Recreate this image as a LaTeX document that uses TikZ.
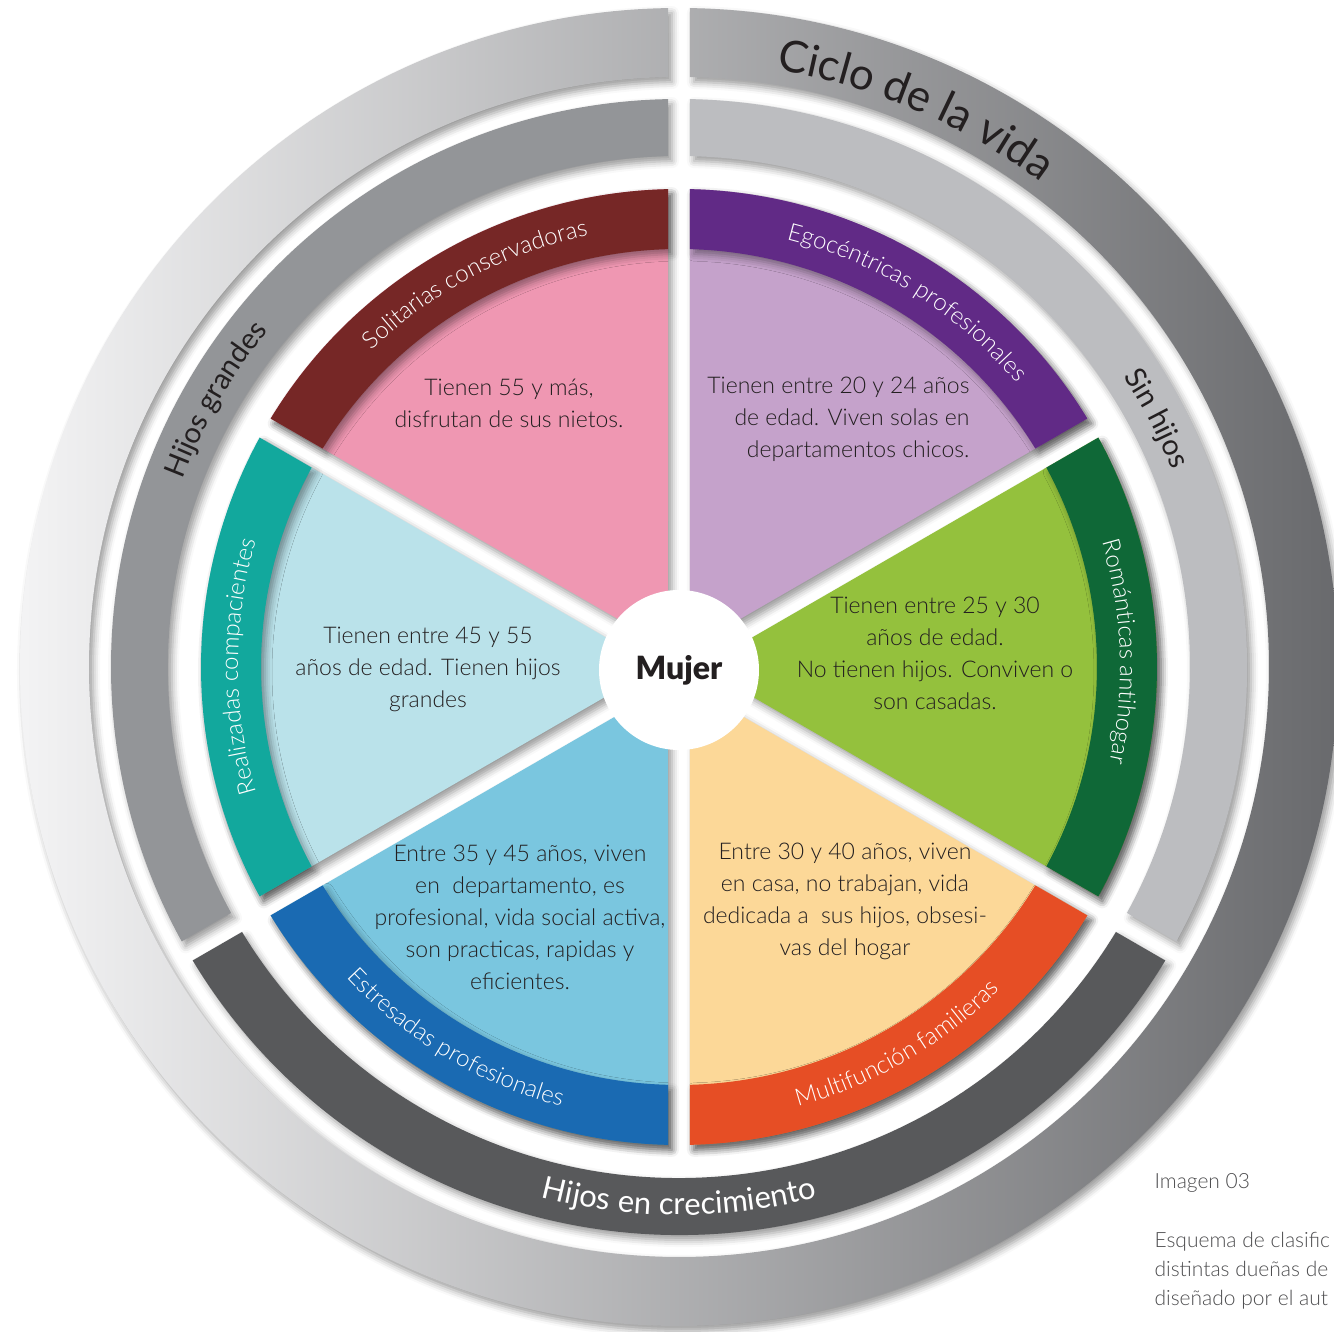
\documentclass[tikz,border=0pt]{standalone}
\usepackage{fontspec}
\setmainfont{Lato Light}[BoldFont={Lato Black}]
\newfontfamily\regfont{Lato}
\usetikzlibrary{decorations.text, shadows.blur}

\definecolor{inkgray}{HTML}{231F20}
\definecolor{pinkfill}{HTML}{EF97B2}
\definecolor{redband}{HTML}{762726}
\definecolor{lilacfill}{HTML}{C5A2CB}
\definecolor{purpleband}{HTML}{612A86}
\definecolor{greenfill}{HTML}{94C13D}
\definecolor{greenband}{HTML}{0F6837}
\definecolor{peachfill}{HTML}{FCD898}
\definecolor{orangeband}{HTML}{E64E25}
\definecolor{skyfill}{HTML}{7AC6DF}
\definecolor{blueband}{HTML}{1A6AB2}
\definecolor{palefill}{HTML}{BAE2EA}
\definecolor{tealband}{HTML}{12A89D}
\definecolor{grandesgray}{HTML}{939598}
\definecolor{sinhijosgray}{HTML}{BCBDC0}
\definecolor{crecegray}{HTML}{58595B}
\definecolor{ringlight}{HTML}{F4F4F5}
\definecolor{ringmid}{HTML}{B2B3B6}
\definecolor{ringdark}{HTML}{68696C}
\definecolor{captiongray}{HTML}{4D4D4F}

\newcommand\ringpiece[5]{%
  \pgfmathsetmacro\angA{#2+asin(\gap/#5)}%
  \pgfmathsetmacro\angB{#3-asin(\gap/#5)}%
  \pgfmathsetmacro\angC{#3-asin(\gap/#4)}%
  \pgfmathsetmacro\angD{#2+asin(\gap/#4)}%
  \path[#1] (\angA:#5) arc[start angle=\angA, end angle=\angB, radius=#5]
    -- (\angC:#4) arc[start angle=\angC, end angle=\angD, radius=#4] -- cycle;%
}
\newcommand\wedgepiece[4]{%
  \pgfmathsetmacro\angA{#2+asin(\gap/#4)}%
  \pgfmathsetmacro\angB{#3-asin(\gap/#4)}%
  \pgfmathsetmacro\angM{(#2+#3)/2}%
  \pgfmathsetmacro\tipD{\gap/sin((#3-#2)/2)}%
  \path[#1] (\angM:\tipD) -- (\angA:#4) arc[start angle=\angA, end angle=\angB, radius=#4] -- cycle;%
}
\newcommand\bandfont{\fontsize{24}{24}\selectfont}
\newcommand\ringfont{\regfont\fontsize{29}{29}\selectfont}

\begin{document}
\begin{tikzpicture}[x=1pt,y=1pt,
    piece/.style={blur shadow={shadow xshift=4pt, shadow yshift=-5pt, shadow blur radius=7pt, shadow opacity=40}},
    bodytext/.style={text=inkgray, align=center, font=\fontsize{23}{32}\selectfont},
    captext/.style={text=captiongray, align=left, font=\fontsize{21}{29}\selectfont}]

    \def\gap{11}

    \useasboundingbox (-679,-665) rectangle (655,667);
    \clip (-679,-665) rectangle (655,667);

    \ringpiece{piece, left color=ringlight, middle color=ringmid, right color=ringdark}{90}{450}{590}{659}

    \ringpiece{piece, fill=grandesgray}{90}{210}{511}{568}
    \ringpiece{piece, fill=sinhijosgray}{-30}{90}{511}{568}
    \ringpiece{piece, fill=crecegray}{210}{330}{511}{568}

    \wedgepiece{piece, fill=pinkfill}{90}{150}{478}
    \wedgepiece{piece, fill=lilacfill}{30}{90}{478}
    \wedgepiece{piece, fill=greenfill}{-30}{30}{478}
    \wedgepiece{piece, fill=peachfill}{-90}{-30}{478}
    \wedgepiece{piece, fill=skyfill}{210}{270}{478}
    \wedgepiece{piece, fill=palefill}{150}{210}{478}

    \ringpiece{piece, fill=redband}{90}{150}{418}{478}
    \ringpiece{piece, fill=purpleband}{30}{90}{418}{478}
    \ringpiece{piece, fill=greenband}{-30}{30}{418}{478}
    \ringpiece{piece, fill=orangeband}{-90}{-30}{418}{478}
    \ringpiece{piece, fill=blueband}{210}{270}{418}{478}
    \ringpiece{piece, fill=tealband}{150}{210}{418}{478}

    \node[circle, fill=white, minimum size=160, inner sep=0, text=inkgray,
          font=\fontsize{32}{32}\selectfont\bfseries] (mujer) at (0,-3) {Mujer};

    \path[decorate, decoration={text along path, text align=center, text color=white,
          text={|\bandfont|Solitarias conservadoras}}] (163:441) arc[start angle=163, end angle=73, radius=441];
    \path[decorate, decoration={text along path, text align=center, text color=white,
          text={|\bandfont|Egocéntricas profesionales}}] (103:441) arc[start angle=103, end angle=13, radius=441];
    \path[decorate, decoration={text along path, text align=center, text color=white,
          text={|\bandfont|Románticas antihogar}}] (47:441) arc[start angle=47, end angle=-43, radius=441];
    \path[decorate, decoration={text along path, text align=center, text color=white,
          text={|\bandfont|Multifunción familieras}}] (-105:455) arc[start angle=-105, end angle=-15, radius=455];
    \path[decorate, decoration={text along path, text align=center, text color=white,
          text={|\bandfont|Estresadas profesionales}}] (194:455) arc[start angle=194, end angle=284, radius=455];
    \path[decorate, decoration={text along path, text align=center, text color=white,
          text={|\bandfont|Realizadas compacientes}}] (225:441) arc[start angle=225, end angle=135, radius=441];

    \path[decorate, decoration={text along path, text align=center, text color=inkgray,
          text={|\ringfont|Hijos grandes}}] (195:531) arc[start angle=195, end angle=105, radius=531];
    \path[decorate, decoration={text along path, text align=center, text color=inkgray,
          text={|\ringfont|Sin hijos}}] (72:531) arc[start angle=72, end angle=-17, radius=531];
    \path[decorate, decoration={text along path, text align=center, text color=white,
          text={|\regfont\fontsize{31}{31}\selectfont|Hijos en crecimiento}}] (225:548) arc[start angle=225, end angle=315, radius=548];
    \path[decorate, decoration={text along path, text align=center, text color=inkgray,
          text={|\regfont\fontsize{44}{44}\selectfont|Ciclo de la vida}}] (112:605) arc[start angle=112, end angle=22, radius=605];

    \node[bodytext] (edad55) at (-170,264) {Tienen 55 y más,\\disfrutan de sus nietos.};
    \node[bodytext, align=right, anchor=east] (edad20) at (294,248) {Tienen entre 20 y 24 años\\de edad. Viven solas en\\departamentos chicos.};
    \node[bodytext] (edad25) at (256,14) {Tienen entre 25 y 30\\años de edad.\\No tienen hijos. Conviven o\\son casadas.};
    \node[bodytext] (edad30) at (166,-234) {Entre 30 y 40 años, viven\\en casa, no trabajan, vida\\dedicada a\ \ sus hijos, obsesi-\\vas del hogar};
    \node[bodytext] (edad35) at (-159,-250) {Entre 35 y 45 años, viven\\en\ \ departamento, es\\profesional, vida social activa,\\son practicas, rapidas y\\eficientes.};
    \node[bodytext] (edad45) at (-251,-2) {Tienen entre 45 y 55\\años de edad. Tienen hijos\\grandes};

    \node[captext, anchor=west] (imagen) at (472,-516) {Imagen 03};
    \node[captext, anchor=north west] (esquema) at (472,-562) {Esquema de clasific\\distintas dueñas de\\diseñado por el aut};
\end{tikzpicture}
\end{document}
